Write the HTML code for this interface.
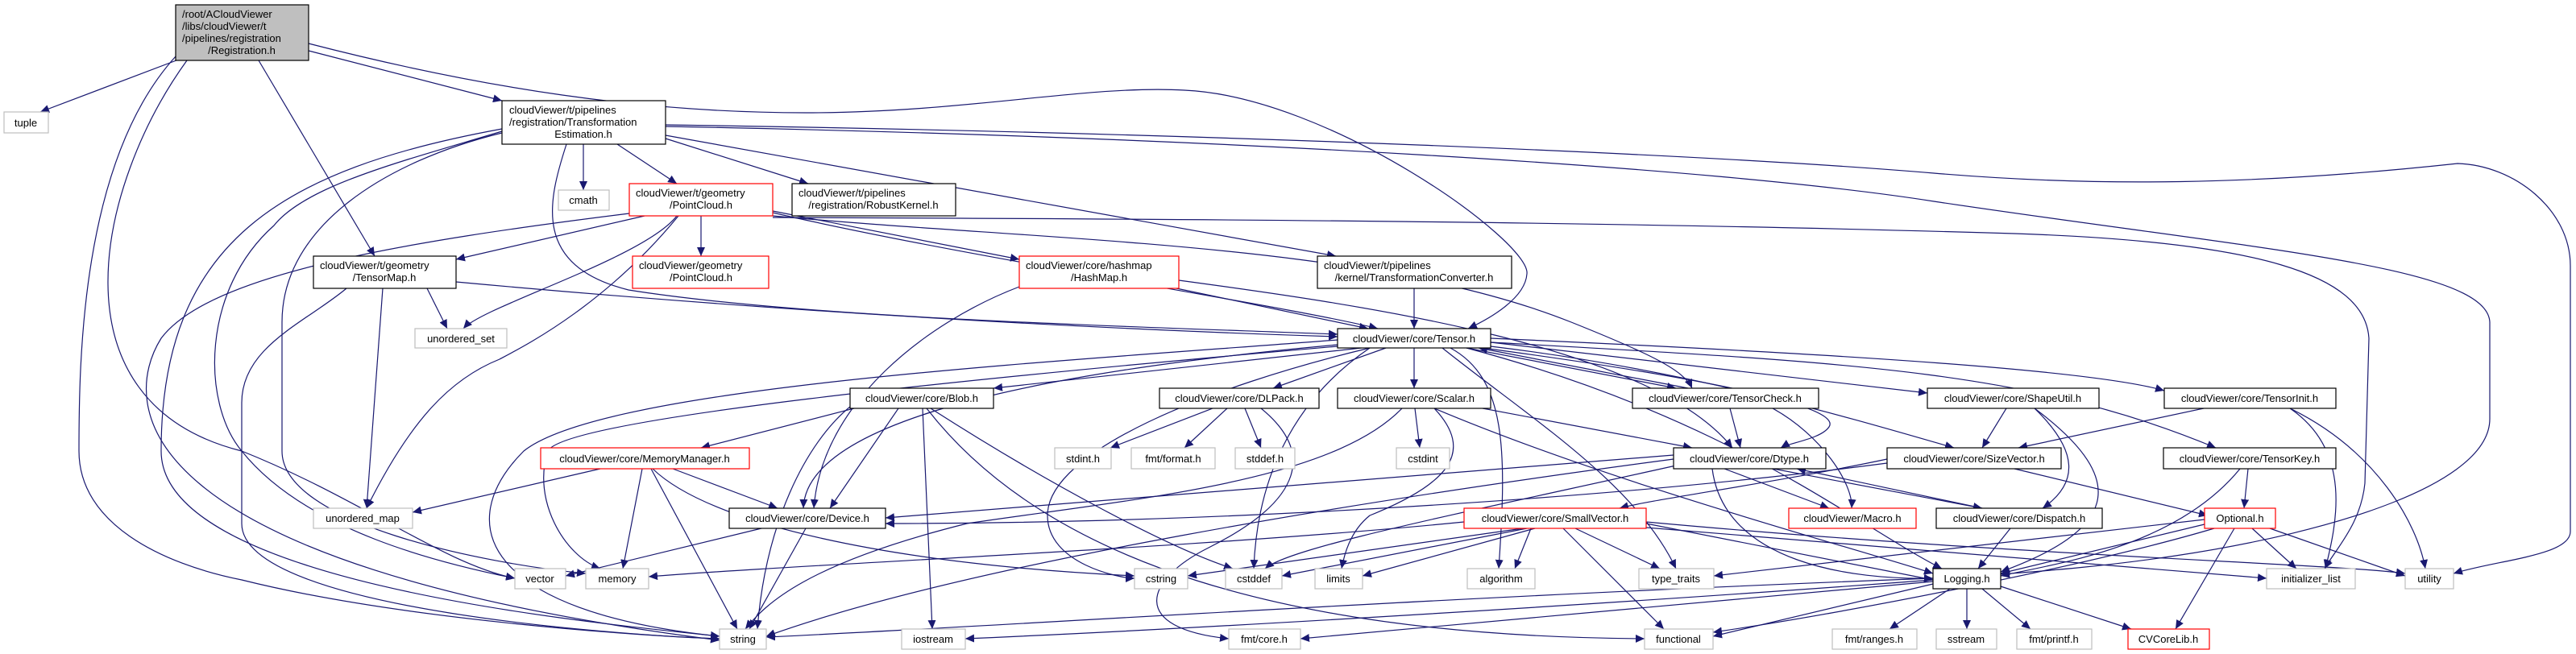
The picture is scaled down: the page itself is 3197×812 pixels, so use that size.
<!DOCTYPE html>
<html><head><meta charset="utf-8"><style>
html,body{margin:0;padding:0;background:#fff;}
svg{display:block;font-family:"Liberation Sans",Arial,sans-serif;font-size:13px;}
.e{fill:none;stroke:#191970;stroke-width:1.2;marker-end:url(#a);}
.n{fill:#fff;stroke:#000;stroke-width:1.2;}
.g{fill:#fff;stroke:#bfbfbf;stroke-width:1.2;}
.r{fill:#fff;stroke:#ff0000;stroke-width:1.2;}
text{fill:#000;}
.c{text-anchor:middle;}
</style></head><body>
<svg width="3197" height="812" viewBox="0 0 3197 812" xmlns="http://www.w3.org/2000/svg">
<defs><marker id="a" markerUnits="userSpaceOnUse" markerWidth="12" markerHeight="10" refX="11" refY="5" orient="auto"><path d="M0,0 L11,5 L0,10 z" fill="#191970"/></marker></defs>
<g>
<!-- Registration -->
<path class="e" d="M232,70 L50,139"/>
<path class="e" d="M232,75 C120,230 60,500 300,560 C450,620 550,700 639,718"/>
<path class="e" d="M218,70 C100,200 98,450 98,560 C98,650 200,700 300,720 C500,770 800,790 893,793"/>
<path class="e" d="M321,75 L465,318"/>
<path class="e" d="M383,63 L623,125"/>
<path class="e" d="M383,54 C600,110 800,140 1000,140 C1200,140 1350,105 1470,112 C1650,120 1900,300 1895,340 C1893,370 1850,395 1822,408"/>
<!-- TE -->
<path class="e" d="M724,179 L724,236"/>
<path class="e" d="M766,179 L840,228"/>
<path class="e" d="M826,172 L1003,228"/>
<path class="e" d="M826,168 L1658,318"/>
<path class="e" d="M826,155 C1500,165 2127,192 2400,215 C2600,232 2800,230 3050,203 C3120,205 3190,260 3190,330 L3190,660 C3190,690 3100,695 3045,712"/>
<path class="e" d="M826,157 C1500,170 2127,207 2400,250 C2800,310 3087,330 3090,400 L3090,520 C3090,600 2900,660 2700,690 C2600,705 2520,710 2483,713"/>
<path class="e" d="M703,179 C680,250 660,330 780,360 C1000,395 1400,405 1660,415"/>
<path class="e" d="M623,160 C350,210 200,300 200,560 C200,720 700,770 893,790"/>
<path class="e" d="M623,163 C500,200 380,230 340,280 C250,360 250,500 300,560 C380,660 550,700 639,718"/>
<path class="e" d="M623,165 C480,200 350,280 350,400 L350,560 C350,650 600,700 727,712"/>
<!-- PC -->
<path class="e" d="M870,268 L870,318"/>
<path class="e" d="M800,268 L566,322"/>
<path class="e" d="M840,268 C800,320 600,380 575,408"/>
<path class="e" d="M842,268 C750,380 650,430 620,446 C560,470 510,520 455,631"/>
<path class="e" d="M781,265 C500,300 260,340 200,420 C150,500 150,700 893,795"/>
<path class="e" d="M959,262 L1265,322"/>
<path class="e" d="M959,264 C1200,320 1600,380 1710,408"/>
<path class="e" d="M959,268 C1300,300 1700,300 1950,400 C2050,440 2090,460 2100,482"/>
<path class="e" d="M959,270 C1500,272 2000,275 2500,290 C2800,300 2935,340 2940,420 L2935,600 C2930,650 2900,680 2885,706"/>
<!-- TensorMap -->
<path class="e" d="M530,358 L555,408"/>
<path class="e" d="M475,358 L455,631"/>
<path class="e" d="M566,350 C1000,390 1400,410 1660,418"/>
<path class="e" d="M430,358 C380,400 300,430 300,500 L300,650 C300,760 800,790 893,793"/>
<!-- HashMap -->
<path class="e" d="M1460,358 L1698,408"/>
<path class="e" d="M1265,356 C1150,400 1020,500 1010,631"/>
<path class="e" d="M1463,348 C1700,380 2050,430 2150,556"/>
<path class="e" d="M1755,358 L1755,408"/>
<!-- Tensor -->
<path class="e" d="M1690,432 L1233,482"/>
<path class="e" d="M1720,432 L1580,482"/>
<path class="e" d="M1755,432 L1755,482"/>
<path class="e" d="M1820,432 L2080,482"/>
<path class="e" d="M2095,482 L1835,432"/>
<path class="e" d="M1850,425 L2392,488"/>
<path class="e" d="M1850,420 C2300,440 2600,460 2686,485"/>
<path class="e" d="M1850,430 C2100,460 2300,520 2425,556"/>
<path class="e" d="M1850,425 C2300,450 2520,460 2750,556"/>
<path class="e" d="M1840,432 C2050,460 2290,500 2270,530 C2260,545 2220,550 2210,556"/>
<path class="e" d="M1660,428 C1200,470 1000,540 997,631"/>
<path class="e" d="M1660,422 C1300,450 750,480 650,560 C560,650 600,760 893,790"/>
<path class="e" d="M1660,430 C1200,470 700,520 680,560 C660,620 700,690 745,706"/>
<path class="e" d="M1700,432 C1500,480 1300,560 1300,640 C1300,700 1390,718 1408,718"/>
<path class="e" d="M1700,432 C1600,500 1560,600 1556,706"/>
<path class="e" d="M1800,432 C1870,470 1870,560 1860,706"/>
<path class="e" d="M1790,432 C1900,520 2030,600 2080,706"/>
<path class="e" d="M1820,432 C2150,520 2300,650 2410,706"/>
<!-- TensorCheck -->
<path class="e" d="M2147,507 L2160,556"/>
<path class="e" d="M2200,507 C2260,540 2300,600 2298,631"/>
<!-- ShapeUtil -->
<path class="e" d="M2490,507 L2460,556"/>
<path class="e" d="M2525,507 C2580,560 2580,600 2535,631"/>
<path class="e" d="M2525,507 C2650,600 2620,660 2483,710"/>
<!-- TensorInit -->
<path class="e" d="M2735,507 L2505,556"/>
<path class="e" d="M2842,507 C2920,560 2900,650 2886,706"/>
<path class="e" d="M2842,507 C2950,560 3000,650 3010,706"/>
<!-- Scalar -->
<path class="e" d="M1756,507 L1762,556"/>
<path class="e" d="M1840,507 L2100,556"/>
<path class="e" d="M1740,507 C1650,600 1400,620 1200,650 C1000,700 950,750 925,781"/>
<path class="e" d="M1780,507 C1830,560 1800,600 1700,640 C1675,660 1668,690 1665,706"/>
<path class="e" d="M1780,507 C2000,600 2300,680 2399,712"/>
<!-- DLPack -->
<path class="e" d="M1505,507 L1378,556"/>
<path class="e" d="M1523,507 L1470,556"/>
<path class="e" d="M1545,507 L1565,556"/>
<path class="e" d="M1565,507 C1630,560 1620,620 1500,680 C1420,720 1400,780 1525,793"/>
<!-- Blob -->
<path class="e" d="M1060,507 L870,556"/>
<path class="e" d="M1115,507 L1030,631"/>
<path class="e" d="M1055,505 C1000,550 950,650 940,781"/>
<path class="e" d="M1155,507 C1300,600 1450,680 1530,706"/>
<path class="e" d="M1145,507 L1157,781"/>
<path class="e" d="M1150,507 C1300,700 1600,790 2041,793"/>
<!-- MemMgr -->
<path class="e" d="M745,582 L512,636"/>
<path class="e" d="M835,582 L965,631"/>
<path class="e" d="M797,582 L773,706"/>
<path class="e" d="M808,582 L915,781"/>
<path class="e" d="M810,582 C880,650 1100,700 1408,715"/>
<!-- Device -->
<path class="e" d="M945,656 L702,715"/>
<path class="e" d="M1000,656 L930,781"/>
<!-- Dtype -->
<path class="e" d="M2140,582 L2270,631"/>
<path class="e" d="M2190,580 L2460,631"/>
<path class="e" d="M2460,631 L2230,582"/>
<path class="e" d="M2125,582 C2140,700 2300,720 2399,718"/>
<path class="e" d="M2077,570 C1700,620 1200,700 951,790"/>
<path class="e" d="M2080,578 C1800,640 1600,680 1570,706"/>
<path class="e" d="M2077,565 L1099,643"/>
<!-- SizeVector -->
<path class="e" d="M2342,570 C2200,600 2050,620 2010,631"/>
<path class="e" d="M2500,582 L2740,640"/>
<path class="e" d="M2342,575 C2000,620 1500,650 1099,650"/>
<path class="e" d="M2495,656 L2455,706"/>
<!-- Optional / TensorKey -->
<path class="e" d="M2740,650 L2483,712"/>
<path class="e" d="M2795,656 L2850,706"/>
<path class="e" d="M2817,656 L2985,715"/>
<path class="e" d="M2773,656 L2700,781"/>
<path class="e" d="M2736,645 L2127,715"/>
<path class="e" d="M2748,656 C2600,700 2300,760 2126,785"/>
<path class="e" d="M2790,582 L2785,631"/>
<path class="e" d="M2780,582 C2700,680 2550,700 2483,715"/>
<!-- SmallVector -->
<path class="e" d="M1890,656 L1474,715"/>
<path class="e" d="M1895,656 L1591,715"/>
<path class="e" d="M1905,656 L1691,715"/>
<path class="e" d="M1900,656 L1880,706"/>
<path class="e" d="M1955,656 L2060,706"/>
<path class="e" d="M1940,656 L2065,781"/>
<path class="e" d="M1817,648 C1500,680 1000,700 805,716"/>
<path class="e" d="M2043,650 L2399,720"/>
<path class="e" d="M2043,648 C2500,690 2900,700 2985,712"/>
<path class="e" d="M2043,655 L2813,718"/>
<!-- Logging -->
<path class="e" d="M2420,731 L2345,781"/>
<path class="e" d="M2441,731 L2441,781"/>
<path class="e" d="M2460,731 L2520,781"/>
<path class="e" d="M2483,728 L2645,781"/>
<path class="e" d="M2399,718 C1800,740 1200,780 951,791"/>
<path class="e" d="M2399,725 L2126,790"/>
<path class="e" d="M2399,720 C2000,750 1500,780 1198,793"/>
<path class="e" d="M2399,722 L1614,793"/>
</g>
<!-- nodes -->
<rect x="218" y="6" width="165" height="69" fill="#bfbfbf" stroke="#000" stroke-width="1.2"/>
<text x="226" y="22">/root/ACloudViewer</text><text x="226" y="37">/libs/cloudViewer/t</text><text x="226" y="52">/pipelines/registration</text><text x="300" y="67" class="c">/Registration.h</text>
<rect class="g" x="5" y="139" width="55" height="26"/><text x="32" y="157" class="c">tuple</text>
<rect class="n" x="623" y="125" width="203" height="54"/><text x="632" y="141">cloudViewer/t/pipelines</text><text x="632" y="156">/registration/Transformation</text><text x="724" y="171" class="c">Estimation.h</text>
<rect class="g" x="693" y="236" width="63" height="25"/><text x="724" y="253" class="c">cmath</text>
<rect class="r" x="781" y="228" width="178" height="40"/><text x="789" y="244">cloudViewer/t/geometry</text><text x="870" y="259" class="c">/PointCloud.h</text>
<rect class="n" x="983" y="228" width="203" height="40"/><text x="991" y="244">cloudViewer/t/pipelines</text><text x="1084" y="259" class="c">/registration/RobustKernel.h</text>
<rect class="n" x="389" y="318" width="177" height="40"/><text x="397" y="334">cloudViewer/t/geometry</text><text x="477" y="349" class="c">/TensorMap.h</text>
<rect class="r" x="785" y="318" width="169" height="40"/><text x="793" y="334">cloudViewer/geometry</text><text x="870" y="349" class="c">/PointCloud.h</text>
<rect class="r" x="1265" y="318" width="198" height="40"/><text x="1273" y="334">cloudViewer/core/hashmap</text><text x="1364" y="349" class="c">/HashMap.h</text>
<rect class="n" x="1635" y="318" width="241" height="40"/><text x="1643" y="334">cloudViewer/t/pipelines</text><text x="1755" y="349" class="c">/kernel/TransformationConverter.h</text>
<rect class="g" x="515" y="408" width="114" height="24"/><text x="572" y="425" class="c">unordered_set</text>
<rect class="n" x="1660" y="408" width="190" height="24"/><text x="1755" y="425" class="c">cloudViewer/core/Tensor.h</text>
<rect class="n" x="1055" y="482" width="178" height="25"/><text x="1144" y="499" class="c">cloudViewer/core/Blob.h</text>
<rect class="n" x="1439" y="482" width="198" height="25"/><text x="1538" y="499" class="c">cloudViewer/core/DLPack.h</text>
<rect class="n" x="1660" y="482" width="190" height="25"/><text x="1755" y="499" class="c">cloudViewer/core/Scalar.h</text>
<rect class="n" x="2026" y="482" width="231" height="25"/><text x="2141" y="499" class="c">cloudViewer/core/TensorCheck.h</text>
<rect class="n" x="2392" y="482" width="213" height="25"/><text x="2498" y="499" class="c">cloudViewer/core/ShapeUtil.h</text>
<rect class="n" x="2686" y="482" width="213" height="25"/><text x="2792" y="499" class="c">cloudViewer/core/TensorInit.h</text>
<rect class="r" x="671" y="556" width="259" height="26"/><text x="800" y="574" class="c">cloudViewer/core/MemoryManager.h</text>
<rect class="g" x="1309" y="556" width="70" height="26"/><text x="1344" y="574" class="c">stdint.h</text>
<rect class="g" x="1404" y="556" width="104" height="26"/><text x="1456" y="574" class="c">fmt/format.h</text>
<rect class="g" x="1533" y="556" width="74" height="26"/><text x="1570" y="574" class="c">stddef.h</text>
<rect class="g" x="1733" y="556" width="66" height="26"/><text x="1766" y="574" class="c">cstdint</text>
<rect class="n" x="2077" y="556" width="189" height="26"/><text x="2171" y="574" class="c">cloudViewer/core/Dtype.h</text>
<rect class="n" x="2342" y="556" width="216" height="26"/><text x="2450" y="574" class="c">cloudViewer/core/SizeVector.h</text>
<rect class="n" x="2685" y="556" width="214" height="26"/><text x="2792" y="574" class="c">cloudViewer/core/TensorKey.h</text>
<rect class="g" x="389" y="631" width="123" height="25"/><text x="450" y="648" class="c">unordered_map</text>
<rect class="n" x="905" y="631" width="194" height="25"/><text x="1002" y="648" class="c">cloudViewer/core/Device.h</text>
<rect class="r" x="1817" y="631" width="226" height="25"/><text x="1930" y="648" class="c">cloudViewer/core/SmallVector.h</text>
<rect class="r" x="2220" y="631" width="158" height="25"/><text x="2299" y="648" class="c">cloudViewer/Macro.h</text>
<rect class="n" x="2403" y="631" width="206" height="25"/><text x="2506" y="648" class="c">cloudViewer/core/Dispatch.h</text>
<rect class="r" x="2736" y="631" width="88" height="25"/><text x="2780" y="648" class="c">Optional.h</text>
<rect class="g" x="639" y="706" width="63" height="25"/><text x="670" y="723" class="c">vector</text>
<rect class="g" x="727" y="706" width="78" height="25"/><text x="766" y="723" class="c">memory</text>
<rect class="g" x="1408" y="706" width="66" height="25"/><text x="1441" y="723" class="c">cstring</text>
<rect class="g" x="1521" y="706" width="70" height="25"/><text x="1556" y="723" class="c">cstddef</text>
<rect class="g" x="1632" y="706" width="59" height="25"/><text x="1661" y="723" class="c">limits</text>
<rect class="g" x="1821" y="706" width="84" height="25"/><text x="1863" y="723" class="c">algorithm</text>
<rect class="g" x="2034" y="706" width="93" height="25"/><text x="2080" y="723" class="c">type_traits</text>
<rect class="n" x="2399" y="706" width="84" height="25"/><text x="2441" y="723" class="c">Logging.h</text>
<rect class="g" x="2813" y="706" width="110" height="25"/><text x="2868" y="723" class="c">initializer_list</text>
<rect class="g" x="2985" y="706" width="60" height="25"/><text x="3015" y="723" class="c">utility</text>
<rect class="g" x="893" y="781" width="58" height="25"/><text x="922" y="798" class="c">string</text>
<rect class="g" x="1119" y="781" width="79" height="25"/><text x="1158" y="798" class="c">iostream</text>
<rect class="g" x="1525" y="781" width="89" height="25"/><text x="1569" y="798" class="c">fmt/core.h</text>
<rect class="g" x="2041" y="781" width="85" height="25"/><text x="2083" y="798" class="c">functional</text>
<rect class="g" x="2274" y="781" width="105" height="25"/><text x="2326" y="798" class="c">fmt/ranges.h</text>
<rect class="g" x="2403" y="781" width="75" height="25"/><text x="2440" y="798" class="c">sstream</text>
<rect class="g" x="2503" y="781" width="93" height="25"/><text x="2549" y="798" class="c">fmt/printf.h</text>
<rect class="r" x="2641" y="781" width="101" height="25"/><text x="2691" y="798" class="c">CVCoreLib.h</text>
</svg>
</body></html>
